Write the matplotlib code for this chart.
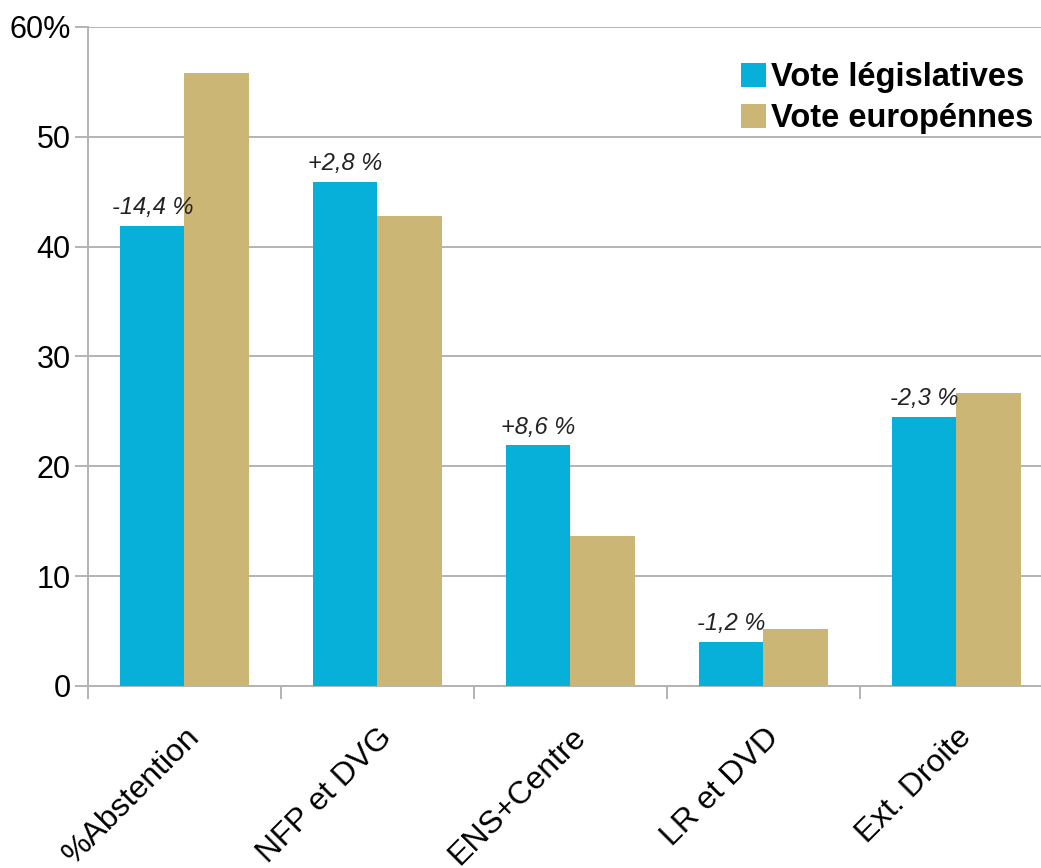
import numpy as np
import matplotlib
matplotlib.use("Agg")
import matplotlib.pyplot as plt
import matplotlib.transforms as mtransforms

plt.rcParams['font.family'] = ['Liberation Sans', 'DejaVu Sans']

# Data
categories = ['%Abstention', 'NFP et DVG', 'ENS+Centre', 'LR et DVD', 'Ext. Droite']
legislatives = [41.9, 45.9, 21.9, 4.0, 24.5]
europeennes = [55.8, 42.8, 13.7, 5.2, 26.7]
differences = ['-14,4 %', '+2,8 %', '+8,6 %', '-1,2 %', '-2,3 %']
yticks = [0, 10, 20, 30, 40, 50, 60]
ytick_labels = ['0', '10', '20', '30', '40', '50', '60%']

blue = '#07b0d9'
tan = '#cbb676'
grid_grey = '#b3b3b3'

fig = plt.figure(figsize=(10.41, 8.68), dpi=100)
ax = fig.add_axes([0.0845, 0.2097, 0.927, 0.7592])

x = np.arange(len(categories))
w = 1 / 3
ax.bar(x - w / 2, legislatives, width=w, color=blue, label='Vote législatives', zorder=3)
ax.bar(x + w / 2, europeennes, width=w, color=tan, label='Vote europénnes', zorder=3)

# change labels above the blue bars
for xi, v, txt in zip(x, legislatives, differences):
    ax.annotate(txt, (xi - w / 2, v), xytext=(0, 5), textcoords='offset points',
                ha='center', va='bottom', fontsize=17, style='italic', color='#222222')

ax.set_xlim(-0.5, len(categories) - 0.5)
ax.set_ylim(0, 60)
ax.set_yticks(yticks)
ax.set_yticklabels(ytick_labels, fontsize=22)
ax.yaxis.grid(True, color=grid_grey, linewidth=1.4, zorder=0)
ax.set_axisbelow(True)

# category separators as minor ticks, labels on major ticks
ax.set_xticks(x)
ax.set_xticks(np.arange(-0.5, len(categories)), minor=True)
ax.set_xticklabels(categories, fontsize=23, rotation=45, ha='right',
                   rotation_mode='anchor')
offset = mtransforms.ScaledTranslation(0.08, 0, fig.dpi_scale_trans)
for lbl in ax.get_xticklabels():
    lbl.set_transform(lbl.get_transform() + offset)
ax.tick_params(axis='x', which='major', length=0, pad=26)
ax.tick_params(axis='x', which='minor', length=9.4, width=1.4, color=grid_grey)
ax.tick_params(axis='y', length=9.4, width=1.4, color=grid_grey, pad=3)

for side in ['top', 'right']:
    ax.spines[side].set_visible(False)
for side in ['left', 'bottom']:
    ax.spines[side].set_color(grid_grey)
    ax.spines[side].set_linewidth(1.4)

leg = fig.legend(loc='upper right', bbox_to_anchor=(0.993, 0.928), frameon=False,
                 prop={'weight': 'bold', 'size': 23.5}, handlelength=0.78,
                 handleheight=0.78, handletextpad=0.15, labelspacing=0.3,
                 borderpad=0, borderaxespad=0)

fig.savefig('out.png', dpi=100)
